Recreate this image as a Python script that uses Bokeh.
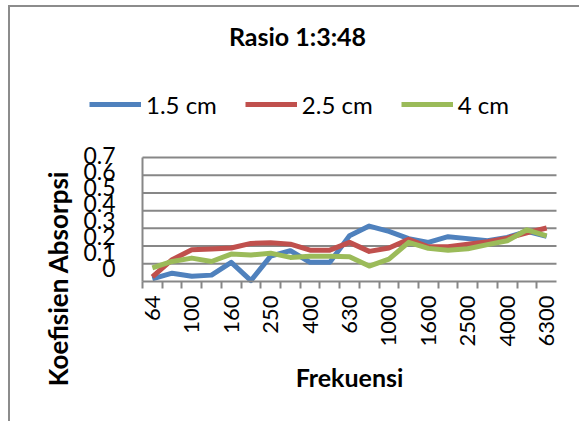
import math
from bokeh.plotting import figure
from bokeh.models import (Range1d, LinearAxis, FixedTicker, Legend, LegendItem,
                          Label, ColumnDataSource)
from bokeh.embed import file_html
from bokeh.resources import INLINE

# ---- data ----
freqs = ["64", "80", "100", "125", "160", "200", "250", "315", "400", "500",
         "630", "800", "1000", "1250", "1600", "2000", "2500", "3150", "4000",
         "5000", "6300"]
s_15 = [0.015, 0.047, 0.030, 0.036, 0.108, 0.005, 0.143, 0.174, 0.108, 0.108,
        0.258, 0.313, 0.283, 0.242, 0.221, 0.253, 0.242, 0.230, 0.249, 0.283,
        0.255]
s_25 = [0.026, 0.123, 0.179, 0.183, 0.189, 0.215, 0.219, 0.211, 0.177, 0.177,
        0.221, 0.170, 0.189, 0.238, 0.196, 0.196, 0.211, 0.225, 0.245, 0.275,
        0.302]
s_40 = [0.077, 0.113, 0.132, 0.113, 0.155, 0.149, 0.160, 0.136, 0.143, 0.143,
        0.140, 0.087, 0.126, 0.221, 0.187, 0.177, 0.185, 0.208, 0.230, 0.292,
        0.258]
series_names = ["1.5 cm", "2.5 cm", "4 cm"]
series_colors = ["#4F81BD", "#C0504D", "#9BBB59"]
y_tick_values = [0, 0.1, 0.2, 0.3, 0.4, 0.5, 0.6, 0.7]
y_tick_labels = ["0", "0.1", "0.2", "0.3", "0.4", "0.5", "0.6", "0.7"]
title_text = "Rasio 1:3:48"
x_title = "Frekuensi"
y_title = "Koefisien Absorpsi"

FONT = "Lato"
GRAY = "#878787"
n = len(freqs)
xs = list(range(n))
all_series = [s_15, s_25, s_40]
x_lo, x_hi = -0.5, n - 0.5          # category band edges
y_top = y_tick_values[-1]

# The frame fills the whole canvas; axes are pinned with fixed_location so
# that titles and legend can sit anywhere without being clipped.
p = figure(width=579, height=421, output_backend="svg", toolbar_location=None,
           title=None,
           x_range=Range1d(-7.703, 21.667), y_range=Range1d(-0.7903, 1.5863),
           x_axis_type=None, y_axis_type=None, min_border=0)
p.outline_line_color = None
p.background_fill_color = None
p.border_fill_color = None
p.styles = {"box-shadow": "inset 8px 5px 0 0 #ffffff, inset 10px 7px 0 0 #8c8c8c"}

# horizontal gridlines across the category band
grid_src = ColumnDataSource(dict(y=y_tick_values[1:],
                                 x0=[x_lo] * (len(y_tick_values) - 1),
                                 x1=[x_hi] * (len(y_tick_values) - 1)))
p.segment(x0="x0", y0="y", x1="x1", y1="y", source=grid_src,
          line_color=GRAY, line_width=2)

# value axis line
yax = LinearAxis(ticker=FixedTicker(ticks=[]), bounds=(0, y_top),
                 fixed_location=x_lo,
                 axis_line_color=GRAY, axis_line_width=2,
                 major_tick_line_color=None, major_tick_in=0, major_tick_out=0,
                 minor_tick_line_color=None, minor_tick_in=0, minor_tick_out=0,
                 major_label_standoff=0)
p.add_layout(yax, "left")

# y labels (Excel-style compressed labels)
p.extra_y_ranges = {"lab": Range1d(-9.478, 16.602)}
labax = LinearAxis(y_range_name="lab", fixed_location=x_lo,
                   ticker=FixedTicker(ticks=list(range(len(y_tick_labels)))),
                   major_label_overrides={i: t for i, t in enumerate(y_tick_labels)},
                   axis_line_color=None, major_tick_line_color=None,
                   major_tick_in=0, major_tick_out=0,
                   minor_tick_line_color=None, minor_tick_in=0, minor_tick_out=0,
                   major_label_standoff=27,
                   major_label_text_font=FONT, major_label_text_font_size="23px",
                   major_label_text_color="black")
p.add_layout(labax, "left")

# category axis
xax = LinearAxis(fixed_location=0, bounds=(x_lo, x_hi),
                 ticker=FixedTicker(ticks=list(range(0, n, 2)),
                                    minor_ticks=[i - 0.5 for i in range(n)]),
                 major_label_overrides={i: freqs[i] for i in range(0, n, 2)},
                 major_label_orientation=math.pi / 2,
                 major_tick_line_color=None, major_tick_in=0, major_tick_out=0,
                 minor_tick_line_color=GRAY, minor_tick_line_width=2,
                 minor_tick_in=0, minor_tick_out=7,
                 axis_line_color=GRAY, axis_line_width=2,
                 major_label_standoff=7,
                 major_label_text_font=FONT, major_label_text_font_size="22px",
                 major_label_text_color="black")
p.add_layout(xax, "below")

items = []
for name, vals, col in zip(series_names, all_series, series_colors):
    src = ColumnDataSource(dict(x=xs, y=vals))
    r = p.line("x", "y", source=src, line_color=col, line_width=5,
               line_join="round")
    items.append(LegendItem(label=name, renderers=[r]))

legend = Legend(items=items, orientation="horizontal", location=(89, 302),
                glyph_width=52, glyph_height=30, label_height=30,
                label_standoff=5, spacing=28, padding=0, margin=0,
                border_line_color=None, background_fill_alpha=0,
                label_text_font=FONT, label_text_font_size="24px",
                label_text_color="black")
p.add_layout(legend, "center")

p.add_layout(Label(x=297, y=386, x_units="screen", y_units="screen",
                   text=title_text, text_align="center",
                   text_baseline="alphabetic", text_font=FONT,
                   text_font_style="bold", text_font_size="25px",
                   text_color="black"))
p.add_layout(Label(x=57, y=143, x_units="screen", y_units="screen",
                   text=y_title, angle=math.pi / 2, text_align="center",
                   text_baseline="alphabetic", text_font=FONT,
                   text_font_style="bold", text_font_size="26px",
                   text_color="black"))
p.add_layout(Label(x=349, y=45, x_units="screen", y_units="screen",
                   text=x_title, text_align="center",
                   text_baseline="alphabetic", text_font=FONT,
                   text_font_style="bold", text_font_size="25px",
                   text_color="black"))

open("out.html", "w").write(file_html(p, INLINE))
